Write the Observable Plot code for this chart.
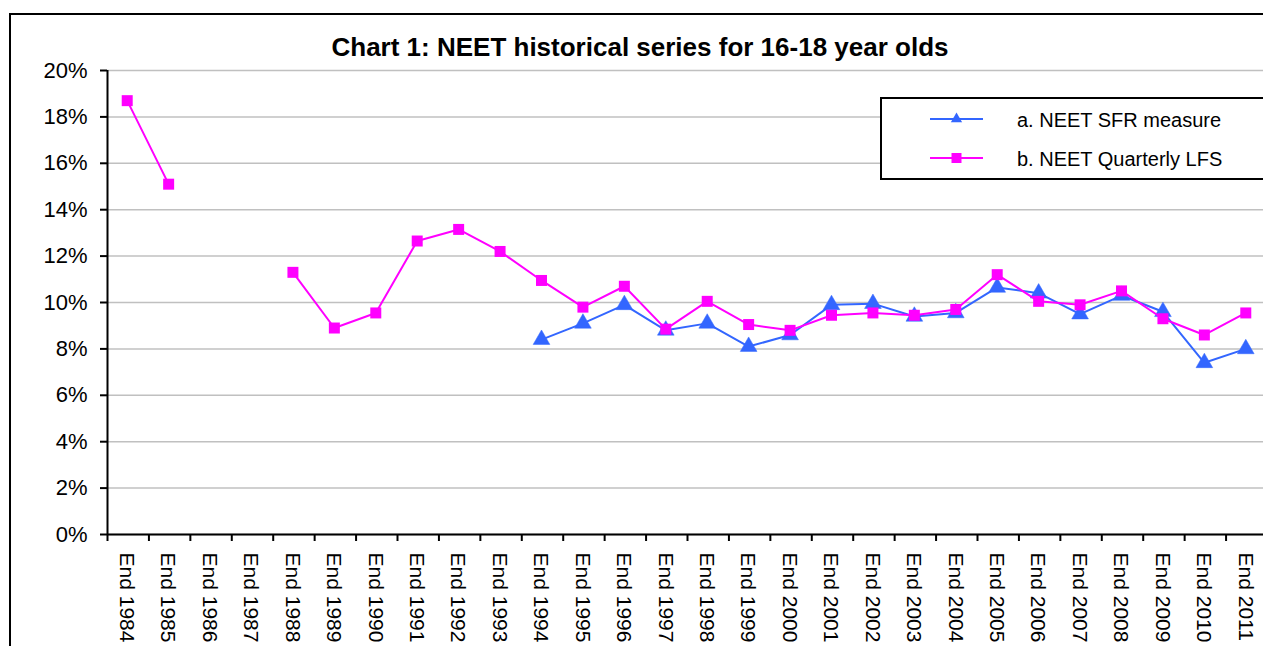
<!DOCTYPE html>
<html>
<head>
<meta charset="utf-8">
<script src="https://cdn.jsdelivr.net/npm/d3@7"></script>
<script src="https://cdn.jsdelivr.net/npm/@observablehq/plot@0.6"></script>
<style>
  html, body { margin: 0; padding: 0; background: #fff; }
  #wrap { position: relative; width: 1263px; height: 646px; overflow: hidden; font-family: "Liberation Sans", Arial, sans-serif; }
  #frame { position: absolute; left: 9px; top: 13px; width: 2000px; height: 2000px; border-left: 2px solid #000; border-top: 2px solid #000; }
  #title { position: absolute; left: 0; width: 1280px; top: 34px; line-height: 26px; text-align: center; font-size: 26px; font-weight: bold; color: #000; }
  #legend { position: absolute; left: 880px; top: 97px; width: 600px; height: 79px; border: 2px solid #000; background: #fff; }
  #chart { position: absolute; left: 0; top: 0; }
</style>
</head>
<body>
<div id="wrap">
  <div id="chart"></div>
  <div id="frame"></div>
  <div id="title">Chart 1: NEET historical series for 16-18 year olds</div>
  <div id="legend"></div>
</div>
<script>
// ---- data ----
const categories = ["End 1984","End 1985","End 1986","End 1987","End 1988","End 1989","End 1990","End 1991","End 1992","End 1993","End 1994","End 1995","End 1996","End 1997","End 1998","End 1999","End 2000","End 2001","End 2002","End 2003","End 2004","End 2005","End 2006","End 2007","End 2008","End 2009","End 2010","End 2011"];
const sfrValues = [null,null,null,null,null,null,null,null,null,null,8.4,9.1,9.9,8.8,9.1,8.1,8.6,9.9,9.95,9.4,9.55,10.65,10.4,9.5,10.3,9.6,7.4,8.0];
const lfsValues = [18.7,15.1,null,null,11.3,8.9,9.55,12.65,13.15,12.2,10.95,9.8,10.7,8.85,10.05,9.05,8.8,9.45,9.55,9.45,9.7,11.2,10.05,9.9,10.5,9.3,8.6,9.55];
const yTicks = [0,2,4,6,8,10,12,14,16,18,20];
const seriesNames = ["a. NEET SFR measure", "b. NEET Quarterly LFS"];

const table = categories.map((c, i) => ({cat: c, sfr: sfrValues[i], lfs: lfsValues[i]}));

const blue = "#3366ff", magenta = "#ff00ff";
const xLeft = 106, xRight = 1266;
const step = (xRight - xLeft) / categories.length;

const chart = Plot.plot({
  width: 1263,
  height: 646,
  marginTop: 70,
  marginBottom: 112,
  marginLeft: 107,
  marginRight: 0,
  style: {fontFamily: "'Liberation Sans', Arial, sans-serif", background: "transparent", overflow: "visible"},
  x: {type: "point", domain: categories, range: [xLeft, xRight], padding: 0.5, round: false},
  y: {domain: [0, 20]},
  marks: [
    Plot.gridY({ticks: yTicks, stroke: "#c0c0c0", strokeOpacity: 1, strokeWidth: 1.5}),
    Plot.axisY({ticks: yTicks, tickFormat: d => d + "%", tickSize: 7, tickPadding: 13, fontSize: 22, strokeWidth: 2, label: null}),
    Plot.axisX({tickSize: 7, tickFormat: () => "", dx: -step / 2 + 1, strokeWidth: 2, label: null}),
    Plot.axisX({tickSize: 0, tickPadding: 18, tickRotate: 90, fontSize: 21, label: null, dx: -0.5}),
    Plot.ruleY([0], {stroke: "#000", strokeWidth: 2}),
    Plot.ruleX([categories[0]], {dx: -step / 2 + 1, y1: 0, y2: 20, stroke: "#000", strokeWidth: 2}),
    Plot.line(table, {x: "cat", y: "sfr", stroke: blue, strokeWidth: 2}),
    Plot.dot(table, {x: "cat", y: "sfr", symbol: "triangle", r: 6.2, fill: blue, stroke: blue, strokeWidth: 0.5}),
    Plot.line(table, {x: "cat", y: "lfs", stroke: magenta, strokeWidth: 2}),
    Plot.dot(table, {x: "cat", y: "lfs", symbol: "square", r: 6.2, fill: magenta, stroke: "none"})
  ]
});
document.getElementById("chart").appendChild(chart);

// legend
const leg = d3.select("#legend").append("svg")
  .attr("width", 600).attr("height", 79)
  .style("position", "absolute").style("left", "-2px").style("top", "-2px")
  .style("overflow", "visible");
const items = [
  {name: seriesNames[0], color: blue, sym: d3.symbolTriangle, size: 55, y: 22},
  {name: seriesNames[1], color: magenta, sym: d3.symbolSquare, size: 100, y: 61}
];
items.forEach(it => {
  leg.append("line").attr("x1", 50).attr("x2", 103).attr("y1", it.y).attr("y2", it.y)
    .attr("stroke", it.color).attr("stroke-width", 2);
  leg.append("path").attr("d", d3.symbol(it.sym, it.size)()).attr("transform", `translate(76.5,${it.y})`)
    .attr("fill", it.color);
  leg.append("text").attr("x", 137).attr("y", it.y + 7.5).attr("font-size", 20)
    .attr("font-family", "'Liberation Sans', Arial, sans-serif").attr("fill", "#000").text(it.name);
});
</script>
</body>
</html>
